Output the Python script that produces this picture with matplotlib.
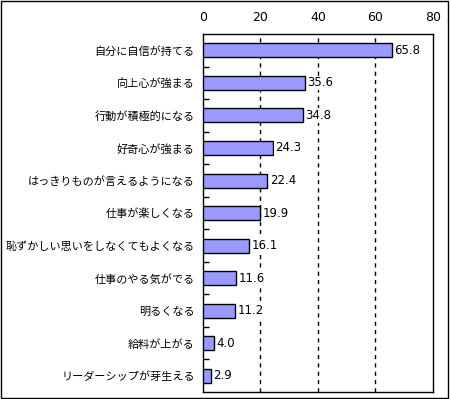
import numpy as np
import matplotlib
matplotlib.use("Agg")
import matplotlib.pyplot as plt
from matplotlib.patches import Rectangle

plt.rcParams['font.family'] = ['Noto Sans CJK JP', 'DejaVu Sans']
plt.rcParams['font.size'] = 9

labels = ["自分に自信が持てる", "向上心が強まる", "行動が積極的になる", "好奇心が強まる",
          "はっきりものが言えるようになる", "仕事が楽しくなる", "恥ずかしい思いをしなくてもよくなる",
          "仕事のやる気がでる", "明るくなる", "給料が上がる", "リーダーシップが芽生える"]
values = [65.8, 35.6, 34.8, 24.3, 22.4, 19.9, 16.1, 11.6, 11.2, 4.0, 2.9]
xticks = [0, 20, 40, 60, 80]

fig = plt.figure(figsize=(4.5, 3.99), dpi=100)
ax = fig.add_axes([0.451, 0.0175, 0.511, 0.897])

y = np.arange(len(values))
ax.barh(y, values, height=0.43, color='#9999FF', edgecolor='black', linewidth=1, zorder=3)
for yi, v in zip(y, values):
    ax.text(v + 0.8, yi, "%.1f" % v, va='center', ha='left', fontsize=8.5, zorder=4,
            family='DejaVu Sans',
            bbox=dict(facecolor='white', edgecolor='none', pad=0.5))

ax.set_xlim(0, 80)
ax.set_ylim(len(values) - 0.5, -0.5)
ax.set_xticks(xticks)
ax.xaxis.tick_top()
ax.tick_params(axis='x', length=0, pad=7, labelsize=9)
for t in ax.get_xticklabels():
    t.set_family('DejaVu Sans')
ax.set_yticks(y)
ax.set_yticklabels(labels)
ax.tick_params(axis='y', length=0, pad=6, labelsize=8)
ax.set_yticks(np.arange(len(values) - 1) + 0.5, minor=True)
ax.tick_params(axis='y', which='minor', direction='in', length=4, width=1)

for xv in xticks[1:-1]:
    ax.axvline(xv, color='black', linestyle=(0, (3, 3)), linewidth=1, zorder=1)

for s in ax.spines.values():
    s.set_linewidth(1)

fig.patches.append(Rectangle((0.002, 0.003), 0.994, 0.994, transform=fig.transFigure,
                             fill=False, edgecolor='black', linewidth=1))

plt.savefig("out.png", dpi=100)
